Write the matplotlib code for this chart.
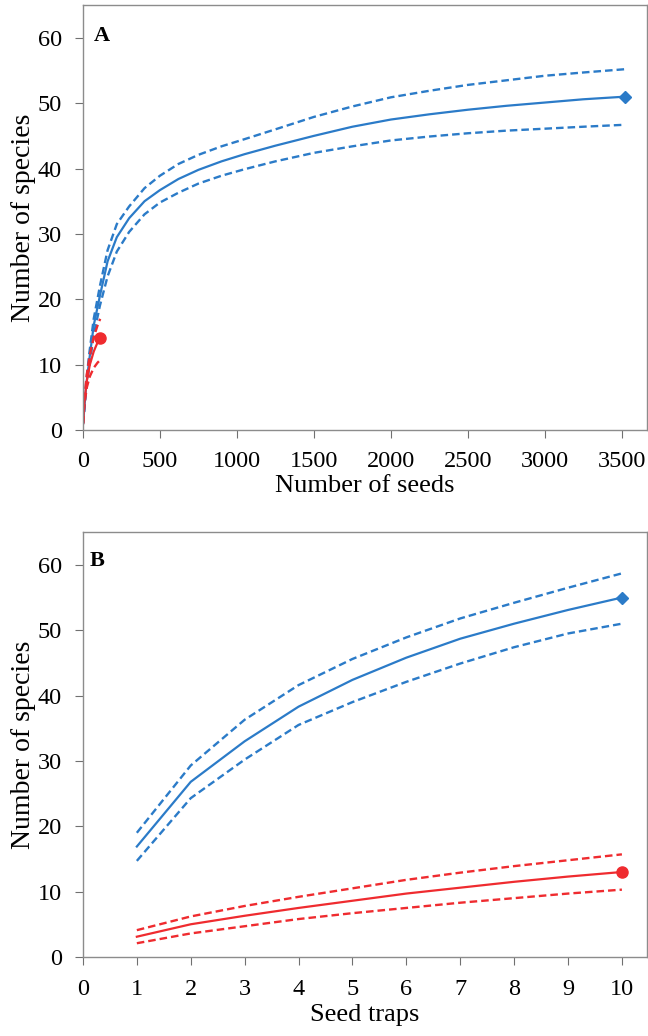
import matplotlib
matplotlib.use("Agg")
import matplotlib.pyplot as plt

plt.rcParams['font.family'] = ['Liberation Serif', 'DejaVu Serif']

BLUE = '#2b7bc8'
RED = '#ef2b2f'
GRAY = '#8c8c8c'

# panel A: rarefaction by number of seeds
seeds_blue = [1, 20, 40, 70, 110, 160, 220, 300, 400, 500, 620, 750, 900, 1050,
              1250, 1500, 1750, 2000, 2250, 2500, 2750, 3000, 3250, 3520]
blue_mean = [1, 6.5, 10.5, 16, 20.5, 25.8, 29.5, 32.4, 35.0, 36.7, 38.4, 39.8, 41.1, 42.2,
             43.5, 45.0, 46.4, 47.5, 48.3, 49.0, 49.6, 50.1, 50.6, 51.0]
blue_upper = [1, 7, 11.5, 17, 22, 27.5, 31.5, 34.2, 37.0, 38.9, 40.7, 42.1, 43.4, 44.5,
              46.0, 47.9, 49.5, 50.9, 51.9, 52.8, 53.5, 54.2, 54.7, 55.2]
blue_lower = [1, 6, 9.5, 14.5, 19, 23.5, 27.3, 30.3, 33.0, 34.8, 36.3, 37.7, 38.9, 39.9,
              41.1, 42.4, 43.4, 44.3, 44.9, 45.4, 45.8, 46.1, 46.4, 46.7]

seeds_red = [1, 10, 25, 45, 70, 95, 112]
red_mean = [1, 4.5, 7.5, 10, 12, 13.4, 14]
red_upper = [1, 5, 8.5, 11.5, 14.2, 16, 17]
red_lower = [1, 4, 6.5, 8.2, 9.5, 10.3, 10.7]

# panel B: rarefaction by seed traps
traps = [1, 2, 3, 4, 5, 6, 7, 8, 9, 10]
b_blue_mean = [16.9, 26.8, 33.0, 38.3, 42.4, 45.8, 48.7, 51.0, 53.1, 55.0]
b_blue_upper = [19.0, 29.3, 36.3, 41.6, 45.6, 48.9, 51.8, 54.2, 56.5, 58.7]
b_blue_lower = [14.7, 24.3, 30.2, 35.5, 39.0, 42.1, 44.9, 47.4, 49.5, 51.0]
b_red_mean = [3.1, 5.0, 6.3, 7.5, 8.6, 9.7, 10.6, 11.5, 12.3, 13.0]
b_red_upper = [4.1, 6.2, 7.8, 9.2, 10.5, 11.8, 12.9, 13.9, 14.8, 15.7]
b_red_lower = [2.1, 3.6, 4.7, 5.8, 6.7, 7.5, 8.3, 9.0, 9.7, 10.3]

fig = plt.figure(figsize=(6.48, 10.36), dpi=100)
axA = fig.add_axes([0.128, 0.585, 0.870, 0.410])
axB = fig.add_axes([0.128, 0.0763, 0.870, 0.410])

dash = (0, (3.2, 1.7))


def curve(ax, x, mean, up, lo, color, marker, ms):
    ax.plot(x, up, color=color, lw=1.7, linestyle=dash)
    ax.plot(x, lo, color=color, lw=1.7, linestyle=dash)
    ax.plot(x, mean, color=color, lw=1.6)
    ax.plot(x[-1], mean[-1], marker=marker, color=color, ms=ms, mec=color)


curve(axA, seeds_blue, blue_mean, blue_upper, blue_lower, BLUE, 'D', 6.5)
curve(axA, seeds_red, red_mean, red_upper, red_lower, RED, 'o', 8)
curve(axB, traps, b_blue_mean, b_blue_upper, b_blue_lower, BLUE, 'D', 6.5)
curve(axB, traps, b_red_mean, b_red_upper, b_red_lower, RED, 'o', 8)

axA.set_xlim(0, 3662)
axA.set_xticks(range(0, 3501, 500))
axB.set_xlim(0, 10.46)
axB.set_xticks(range(0, 11))

for ax in (axA, axB):
    ax.set_ylim(0, 65)
    ax.set_yticks(range(0, 61, 10))
    for s in ax.spines.values():
        s.set_color(GRAY)
        s.set_linewidth(1.0)
    ax.tick_params(direction='out', length=6, color='#707070', labelsize=17.5)
    ax.set_ylabel('Number of species', fontsize=20)
    ax.yaxis.set_label_coords(-0.084, 0.5)

axA.tick_params(axis='x', pad=9)
axA.tick_params(axis='y', pad=9)
axB.tick_params(axis='x', pad=10)
axB.tick_params(axis='y', pad=9)

axA.set_xlabel('Number of seeds', fontsize=19, labelpad=2)
axB.set_xlabel('Seed traps', fontsize=19, labelpad=3)

axA.text(0.02, 0.95, 'A', transform=axA.transAxes, fontsize=16,
         fontweight='bold', va='top', ha='left')
axB.text(0.012, 0.955, 'B', transform=axB.transAxes, fontsize=16,
         fontweight='bold', va='top', ha='left')

fig.savefig('out.png', dpi=100)
